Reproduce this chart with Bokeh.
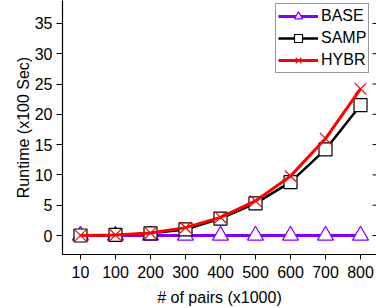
import math
from bokeh.plotting import figure
from bokeh.models import FixedTicker, Range1d
from bokeh.embed import file_html
from bokeh.resources import INLINE

pairs = ["10", "100", "200", "300", "400", "500", "600", "700", "800"]
base = [0, 0, 0, 0, 0, 0, 0, 0, 0]
samp = [0.0, 0.1, 0.35, 1.0, 2.8, 5.3, 8.8, 14.2, 21.5]
hybr = [0.0, 0.1, 0.4, 1.3, 3.0, 5.7, 9.8, 16.0, 24.2]
y_ticks = [0, 5, 10, 15, 20, 25, 30, 35]

xs = list(range(len(pairs)))
FONT = "Liberation Sans"
X_END = 8.457

p = figure(width=376, height=308, output_backend="svg", toolbar_location=None,
           x_range=Range1d(-0.514, X_END), y_range=Range1d(-3.135, 38.78),
           min_border_left=62, min_border_right=0, min_border_top=0, min_border_bottom=54)
p.outline_line_color = None
p.grid.visible = False
p.background_fill_color = "white"

PURPLE = "#8000FF"
p.line(xs, base, color=PURPLE, line_width=3, legend_label="BASE")
p.scatter(xs, base, marker="triangle", size=16, line_color=PURPLE, fill_color="white",
          line_width=1.2, legend_label="BASE")
p.line(xs, samp, color="black", line_width=2.5, legend_label="SAMP")
p.scatter(xs, samp, marker="square", size=13, line_color="black", fill_color="white",
          line_width=1.2, legend_label="SAMP")
p.line(xs, hybr, color="red", line_width=3, legend_label="HYBR")
p.scatter(xs, hybr, marker="x", size=16, line_color="red", line_width=1.2, legend_label="HYBR")

# inward ticks along the right edge of the frame
p.ray(x=[X_END] * len(y_ticks), y=y_ticks, length=4, length_units="screen",
      angle=math.pi, line_color="black", line_width=1)

xa = p.xaxis[0]
xa.ticker = FixedTicker(ticks=xs)
xa.major_label_overrides = {i: s for i, s in enumerate(pairs)}
xa.minor_tick_line_color = None
xa.major_tick_in = 0
xa.major_tick_out = 5
xa.axis_label = "# of pairs (x1000)"
xa.axis_label_text_font = FONT
xa.axis_label_text_font_style = "normal"
xa.axis_label_text_font_size = "16px"
xa.axis_label_text_color = "black"
xa.major_label_text_font = FONT
xa.major_label_text_font_size = "16px"
xa.major_label_text_color = "black"
xa.major_label_standoff = 6
xa.axis_label_standoff = 8
xa.axis_line_width = 1.2
xa.axis_line_color = "black"
xa.major_tick_line_color = "black"

ya = p.yaxis[0]
ya.ticker = FixedTicker(ticks=y_ticks)
ya.minor_tick_line_color = None
ya.major_tick_in = 0
ya.major_tick_out = 6
ya.axis_label = "Runtime (x100 Sec)"
ya.axis_label_text_font = FONT
ya.axis_label_text_font_style = "normal"
ya.axis_label_text_font_size = "16px"
ya.axis_label_text_color = "black"
ya.major_label_text_font = FONT
ya.major_label_text_font_size = "16px"
ya.major_label_text_color = "black"
ya.major_label_standoff = 4
ya.axis_label_standoff = 0
ya.axis_line_width = 1.2
ya.axis_line_color = "black"
ya.major_tick_line_color = "black"

lg = p.legend[0]
lg.location = (213, 181)
lg.margin = 0
lg.padding = 2
lg.spacing = 2
lg.glyph_width = 40
lg.glyph_height = 20
lg.label_text_font = FONT
lg.label_text_font_size = "16px"
lg.label_text_color = "black"
lg.label_standoff = 3
lg.border_line_color = "#333333"
lg.border_line_width = 1.2
lg.background_fill_alpha = 1

open("out.html", "w").write(file_html(p, INLINE))
